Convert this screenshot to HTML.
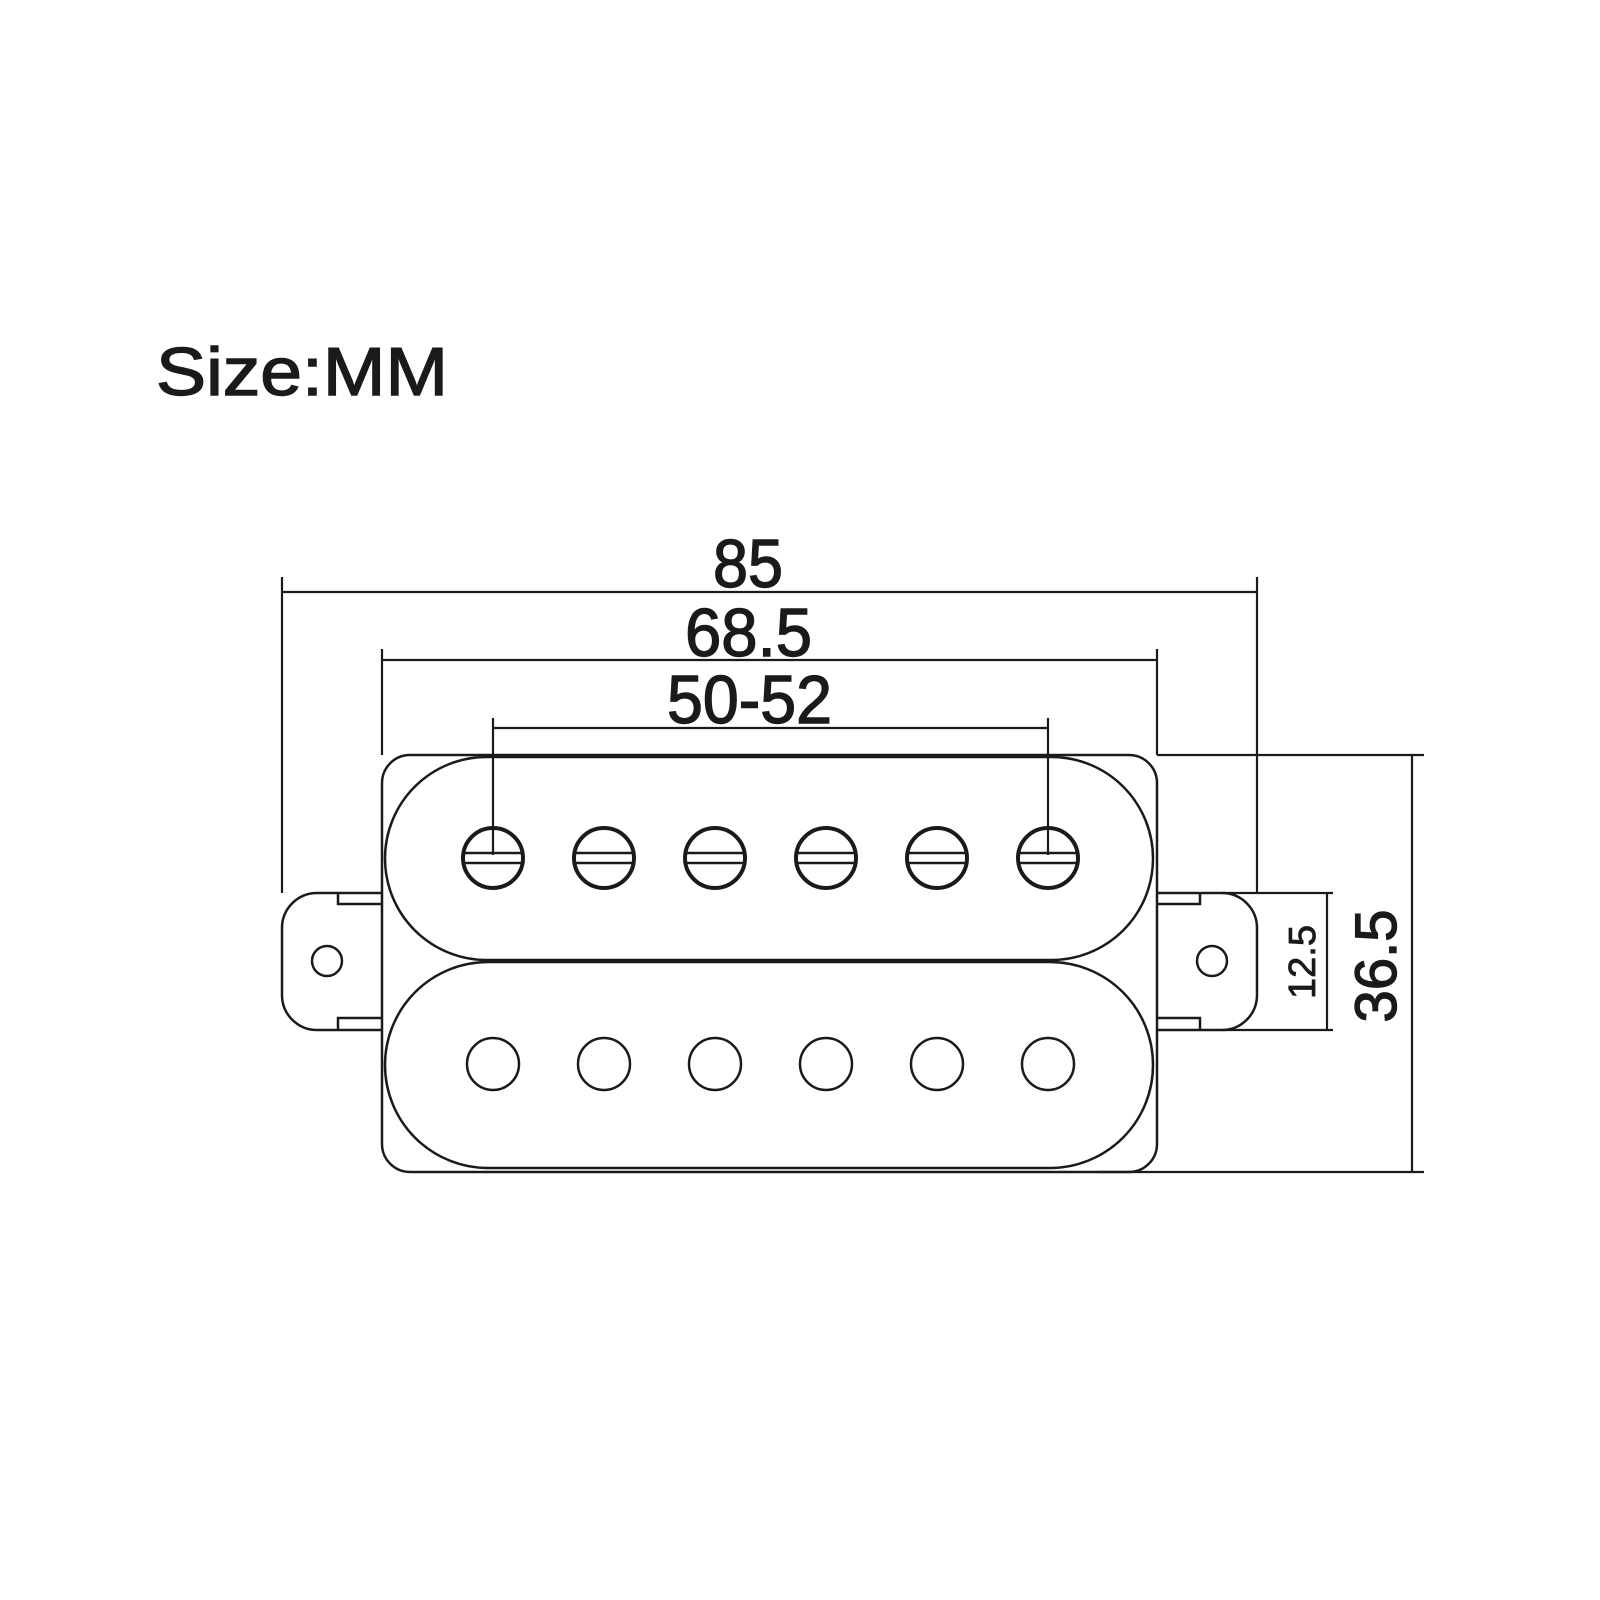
<!DOCTYPE html>
<html><head><meta charset="utf-8"><style>html,body{margin:0;padding:0;background:#fff}svg{display:block}</style></head>
<body>
<svg width="1600" height="1600" viewBox="0 0 1600 1600" xmlns="http://www.w3.org/2000/svg">
<g fill="none" stroke="#1a1a1a" stroke-width="2.5">
<rect x="382" y="755" width="775" height="417" rx="28"/>
<rect x="385" y="757" width="768" height="203" rx="101.5"/>
<rect x="385" y="962" width="768" height="206" rx="103"/>
<path d="M382 893 H317 A35 35 0 0 0 282 928 V995 A35 35 0 0 0 317 1030 H382"/>
<path d="M382 904 H338 V893"/>
<path d="M382 1018 H338 V1030"/>
<circle cx="327" cy="961" r="15"/>
<path d="M1157 893 H1222 A35 35 0 0 1 1257 928 V995 A35 35 0 0 1 1222 1030 H1157"/>
<path d="M1157 904 H1200 V893"/>
<path d="M1157 1018 H1200 V1030"/>
<circle cx="1212" cy="961" r="15"/>
</g>
<g fill="none" stroke="#1a1a1a">
<g stroke-width="4">
<circle cx="493" cy="858" r="30"/><circle cx="604" cy="858" r="30"/><circle cx="715" cy="858" r="30"/>
<circle cx="826" cy="858" r="30"/><circle cx="937" cy="858" r="30"/><circle cx="1048" cy="858" r="30"/>
</g>
<g stroke-width="2.5">
<path d="M464 853H522M464 863H522M575 853H633M575 863H633M686 853H744M686 863H744M797 853H855M797 863H855M908 853H966M908 863H966M1019 853H1077M1019 863H1077"/>
<circle cx="493" cy="1064" r="26"/><circle cx="604" cy="1064" r="26"/><circle cx="715" cy="1064" r="26"/>
<circle cx="826" cy="1064" r="26"/><circle cx="937" cy="1064" r="26"/><circle cx="1048" cy="1064" r="26"/>
</g>
<g stroke-width="2.2">
<path d="M282 577 V893 M1257 577 V893 M282 592 H1257"/>
<path d="M382 649 V755 M1157 649 V755 M382 660 H1157"/>
<path d="M493 718 V855 M1048 718 V855 M493 728 H1048"/>
<path d="M1157 755 H1424 M1100 1172 H1424 M1412 755 V1172"/>
<path d="M1222 893 H1333 M1222 1030 H1333 M1327 893 V1030"/>
</g>
</g>
<g font-family="Liberation Sans, sans-serif" fill="#1a1a1a" stroke="#1a1a1a" stroke-width="1.4">
<text x="156" y="395" font-size="68" textLength="292" lengthAdjust="spacingAndGlyphs">Size:MM</text>
<text x="713" y="587" font-size="68" textLength="70" lengthAdjust="spacingAndGlyphs">85</text>
<text x="685" y="656" font-size="68" textLength="127" lengthAdjust="spacingAndGlyphs">68.5</text>
<text x="667" y="723" font-size="68" textLength="165" lengthAdjust="spacingAndGlyphs">50-52</text>
<text transform="translate(1315,962) rotate(-90)" font-size="38" text-anchor="middle" stroke-width="0.8">12.5</text>
<text transform="translate(1396,966) rotate(-90)" font-size="58" text-anchor="middle">36.5</text>
</g>
</svg>
</body></html>
